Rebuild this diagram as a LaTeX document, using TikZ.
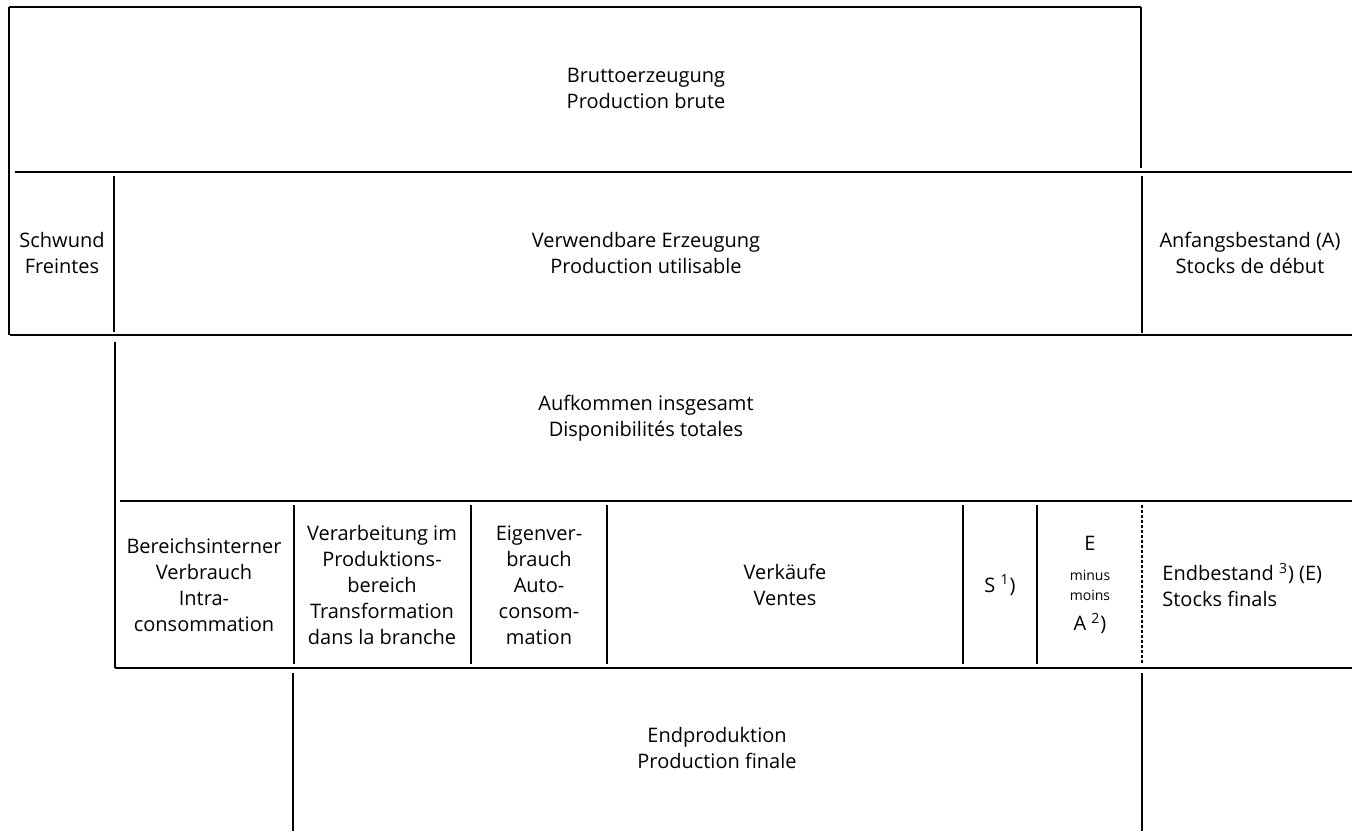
\documentclass[tikz,border=0pt]{standalone}
\usepackage{fontspec}
\setmainfont{Open Sans}
\usetikzlibrary{calc}

\newcommand{\smalltxt}[1]{{\fontsize{7}{8.5}\selectfont #1}}

\tikzset{lbl/.style={align=center, inner sep=1pt, font=\fontsize{10}{13}\selectfont},
  rule/.style={black, line width=0.8pt},
  dotrule/.style={black, line width=0.7pt, dash pattern=on 1.5pt off 1pt}}

\begin{document}
\begin{tikzpicture}[x=0.5pt, y=-0.5pt]
\useasboundingbox (0,0) rectangle (1352,831);

% outer frame of the first two rows
\draw[rule] (9,7) -- (1141,7);
\draw[rule] (9,7) -- (9,335);
\draw[rule] (1141,7) -- (1141,168);
\draw[rule] (15,172) -- (1352,172);
\draw[rule] (114,176) -- (114,332);
\draw[rule] (1142,176) -- (1142,333);
\draw[rule] (10,335) -- (1352,335);

% Aufkommen and detail row
\draw[rule] (115,342) -- (115,668);
\draw[rule] (120,501) -- (1352,501);
\foreach \x in {294,471,607,963,1037}
 \draw[rule] (\x,505)--(\x,664);
\draw[dotrule] (1142,505) -- (1142,664);
\draw[rule] (115,668) -- (1352,668);

% Endproduktion
\draw[rule] (293,673) -- (293,831);
\draw[rule] (1142,673) -- (1142,831);

% texts
\node[lbl] (brutto) at (646,88) {Bruttoerzeugung\\Production brute};
\node[lbl] (schwund) at (62,253) {Schwund\\Freintes};
\node[lbl] (verwend) at (646,253) {Verwendbare Erzeugung\\Production utilisable};
\node[lbl] (anfang) at (1250,253) {Anfangsbestand (A)\\Stocks de début};
\node[lbl] (aufkommen) at (646,418) {Aufkommen insgesamt\\Disponibilités totales};

\node[lbl] (intra) at (204,585) {Bereichsinterner\\Verbrauch\\Intra-\\consommation};
\node[lbl] (verarb) at (382,585) {Verarbeitung im\\Produktions-\\bereich\\Transformation\\dans la branche};
\node[lbl] (eigen) at (539,585) {Eigenver-\\brauch\\Auto-\\consom-\\mation};
\node[lbl] (verkauf) at (785,585) {Verkäufe\\Ventes};
\node[lbl] (schwundS) at (1000,585) {S \textsuperscript{1})};
\node[lbl] (diffEA) at (1090,585) {E\\[2pt]\smalltxt{minus}\\[-3pt]\smalltxt{moins}\\[2pt]A \textsuperscript{2})};
\node[lbl, align=left, anchor=west] (endbest) at (1160,585) {Endbestand \textsuperscript{3}) (E)\\Stocks finals};

\node[lbl] (endprod) at (717,748) {Endproduktion\\Production finale};
\end{tikzpicture}
\end{document}
